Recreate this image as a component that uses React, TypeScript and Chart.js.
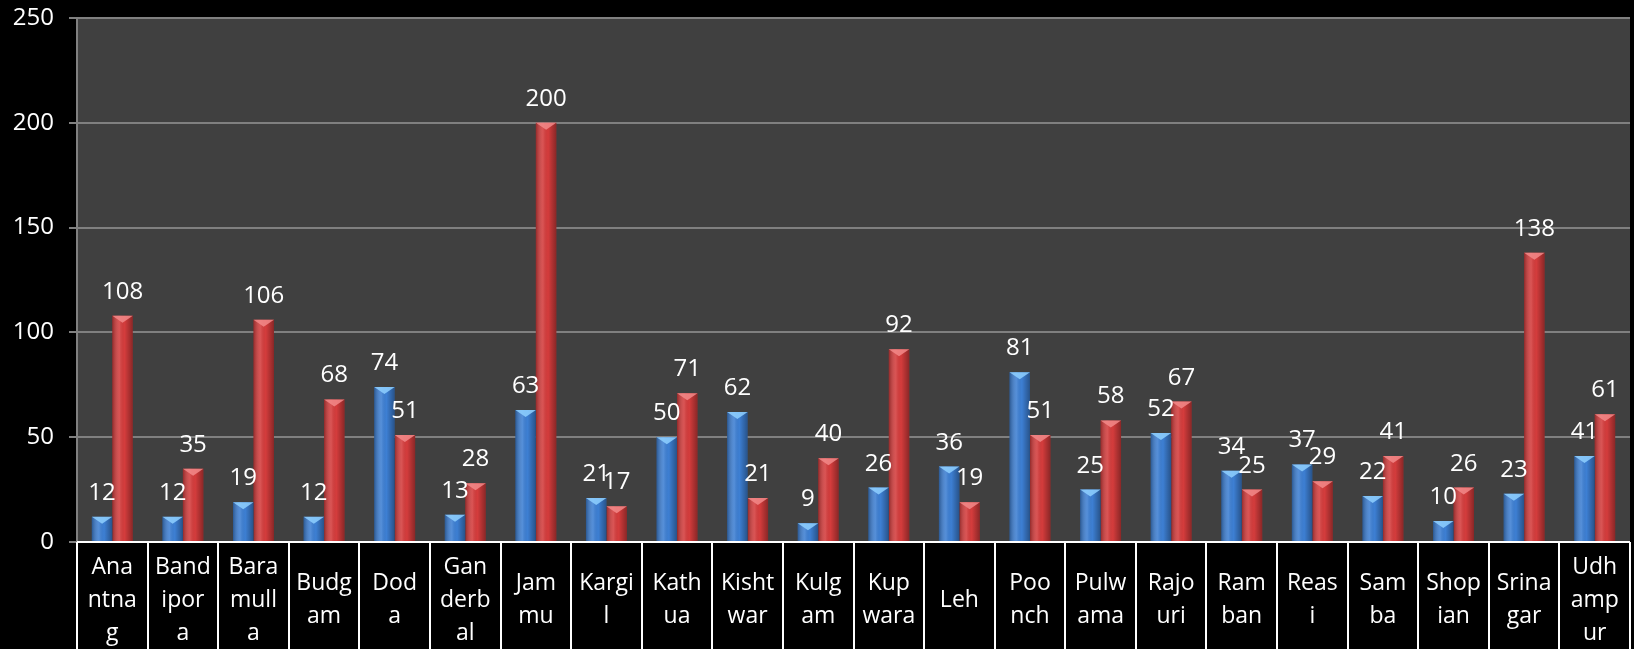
import React, { useEffect, useRef } from "react";
import { Chart, registerables } from "chart.js";

Chart.register(...registerables);

const categories = [
  "Anantnag", "Bandipora", "Baramulla", "Budgam", "Doda", "Ganderbal", "Jammu", "Kargil",
  "Kathua", "Kishtwar", "Kulgam", "Kupwara", "Leh", "Poonch", "Pulwama", "Rajouri",
  "Ramban", "Reasi", "Samba", "Shopian", "Srinagar", "Udhampur",
];

const tickLines: string[][] = [
  ["Ana", "ntna", "g"], ["Band", "ipor", "a"], ["Bara", "mull", "a"], ["Budg", "am"],
  ["Dod", "a"], ["Gan", "derb", "al"], ["Jam", "mu"], ["Kargi", "l"], ["Kath", "ua"],
  ["Kisht", "war"], ["Kulg", "am"], ["Kup", "wara"], ["Leh"], ["Poo", "nch"],
  ["Pulw", "ama"], ["Rajo", "uri"], ["Ram", "ban"], ["Reas", "i"], ["Sam", "ba"],
  ["Shop", "ian"], ["Srina", "gar"], ["Udh", "amp", "ur"],
];

const seriesBlue = [12, 12, 19, 12, 74, 13, 63, 21, 50, 62, 9, 26, 36, 81, 25, 52, 34, 37, 22, 10, 23, 41];
const seriesRed = [108, 35, 106, 68, 51, 28, 200, 17, 71, 21, 40, 92, 19, 51, 58, 67, 25, 29, 41, 26, 138, 61];

const yTicks = [0, 50, 100, 150, 200, 250];

const FONT = "'Open Sans', 'Liberation Sans', sans-serif";

const bevelColors = ["#8fd0ff", "#f28a8a"];

const decorPlugin = {
  id: "decor",
  beforeDraw(chart: any) {
    const { ctx, chartArea } = chart;
    ctx.save();
    ctx.fillStyle = "#000000";
    ctx.fillRect(0, 0, chart.width, chart.height);
    ctx.fillStyle = "#404040";
    ctx.fillRect(chartArea.left, chartArea.top, chartArea.right - chartArea.left, chartArea.bottom - chartArea.top);
    ctx.restore();
  },
  afterDatasetsDraw(chart: any) {
    const { ctx } = chart;
    ctx.save();
    chart.data.datasets.forEach((ds: any, di: number) => {
      const meta = chart.getDatasetMeta(di);
      meta.data.forEach((el: any) => {
        const w = el.width;
        const left = el.x - w / 2;
        const right = el.x + w / 2;
        const top = el.y;
        const bottom = el.base;
        const g = ctx.createLinearGradient(left, 0, right, 0);
        g.addColorStop(0, "rgba(0,0,0,0.30)");
        g.addColorStop(0.35, "rgba(255,255,255,0.12)");
        g.addColorStop(0.6, "rgba(0,0,0,0.0)");
        g.addColorStop(1, "rgba(0,0,0,0.35)");
        ctx.fillStyle = g;
        ctx.fillRect(left, top, w, bottom - top);
        ctx.beginPath();
        ctx.moveTo(left, top);
        ctx.lineTo(right, top);
        ctx.lineTo(el.x, top + 7);
        ctx.closePath();
        ctx.fillStyle = bevelColors[di];
        ctx.globalAlpha = 0.85;
        ctx.fill();
        ctx.globalAlpha = 1;
      });
    });
    ctx.fillStyle = "#ffffff";
    ctx.font = `24px ${FONT}`;
    ctx.textAlign = "center";
    ctx.textBaseline = "alphabetic";
    chart.data.datasets.forEach((ds: any, di: number) => {
      const meta = chart.getDatasetMeta(di);
      meta.data.forEach((el: any, i: number) => {
        ctx.fillText(String(ds.data[i]), el.x, el.y - 17);
      });
    });
    ctx.restore();
  },
  afterDraw(chart: any) {
    const { ctx, chartArea } = chart;
    const xs = chart.scales.x;
    const n = categories.length;
    const step = (chartArea.right - chartArea.left) / n;
    ctx.save();
    ctx.strokeStyle = "#ffffff";
    ctx.lineWidth = 2;
    ctx.beginPath();
    ctx.moveTo(chartArea.left, chartArea.bottom);
    ctx.lineTo(chartArea.right, chartArea.bottom);
    for (let i = 0; i <= n; i++) {
      const x = Math.round(chartArea.left + i * step);
      ctx.moveTo(x, chartArea.bottom);
      ctx.lineTo(x, chart.height);
    }
    ctx.stroke();
    ctx.fillStyle = "#ffffff";
    ctx.font = `23px ${FONT}`;
    ctx.textAlign = "center";
    ctx.textBaseline = "middle";
    const centerY = chartArea.bottom + 58;
    const lh = 33;
    tickLines.forEach((lines, i) => {
      const cx = xs.getPixelForValue(i);
      lines.forEach((line, j) => {
        ctx.fillText(line, cx, centerY + (j - (lines.length - 1) / 2) * lh);
      });
    });
    ctx.restore();
  },
};

export default function App() {
  const ref = useRef<HTMLCanvasElement>(null);
  useEffect(() => {
    document.body.style.margin = "0";
    document.body.style.background = "#000";
    const chart = new Chart(ref.current!, {
      type: "bar",
      data: {
        labels: categories,
        datasets: [
          { label: "Series 1", data: seriesBlue, backgroundColor: "#3d7fd3", borderWidth: 0, categoryPercentage: 0.58, barPercentage: 1 },
          { label: "Series 2", data: seriesRed, backgroundColor: "#d43c3c", borderWidth: 0, categoryPercentage: 0.58, barPercentage: 1 },
        ],
      },
      options: {
        animation: false,
        responsive: false,
        maintainAspectRatio: false,
        layout: { padding: { top: 18, right: 4, left: 0, bottom: 0 } },
        plugins: { legend: { display: false }, tooltip: { enabled: false }, title: { display: false } },
        scales: {
          x: {
            grid: { display: false },
            border: { display: false },
            ticks: { display: false },
            afterFit: (s: any) => { s.height = 107; s.paddingLeft = 0; s.paddingRight = 0; },
          },
          y: {
            min: 0,
            max: 250,
            afterBuildTicks: (s: any) => { s.ticks = yTicks.map((v) => ({ value: v })); },
            ticks: { color: "#ffffff", font: { family: FONT, size: 24 }, padding: 15 },
            grid: { color: "#808080", lineWidth: 2, tickLength: 8 },
            border: { color: "#808080", width: 2 },
            afterFit: (s: any) => { s.width = 77; s.paddingTop = 0; s.paddingBottom = 0; },
          },
        },
      },
      plugins: [decorPlugin],
    });
    return () => chart.destroy();
  }, []);
  return (
    <div style={{ width: 1634, height: 649, background: "#000" }}>
      <canvas ref={ref} width={1634} height={649} style={{ display: "block" }} />
    </div>
  );
}
